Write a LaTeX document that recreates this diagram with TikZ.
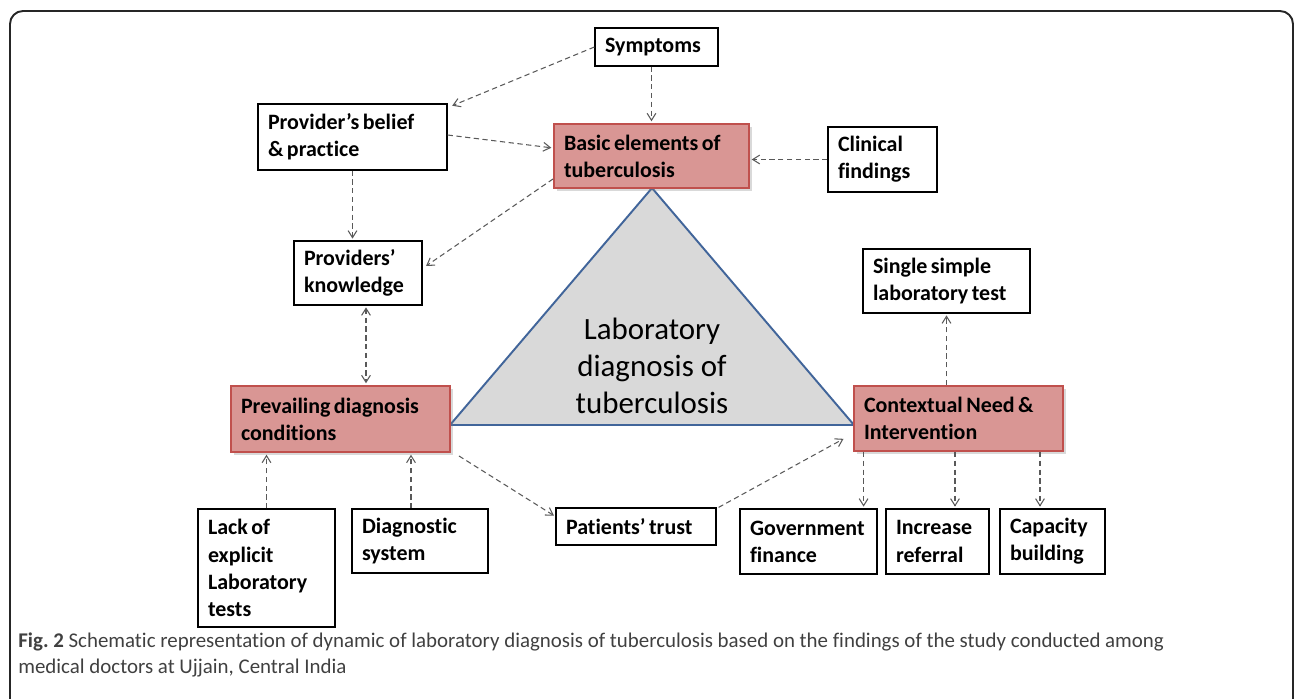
\documentclass[tikz,border=0pt]{standalone}
\usepackage{fontspec}
\setmainfont[Ligatures=NoCommon]{Carlito}
\newfontfamily\boxfont[Ligatures=NoCommon, WordSpace=0.7]{Carlito}
\usepackage{tikz}
\usetikzlibrary{arrows.meta, shadows, calc}
\definecolor{boxred}{HTML}{D99694}
\definecolor{edgered}{HTML}{C0504D}
\definecolor{trigray}{HTML}{D9D9D9}
\definecolor{triblue}{HTML}{41659A}
\definecolor{captxt}{HTML}{404040}
\tikzset {
    >={Straight Barb[length=4pt, width=5pt]},
    box/.style={draw, line width=0.7pt, align=flush left, inner xsep=0.2cm, inner ysep=0pt,
        fill=white, font=\boxfont\fontsize{12.5}{15.5}\selectfont\bfseries},
    keybox/.style={box, draw=edgered, line width=1.1pt, fill=boxred,
        drop shadow={shadow xshift=0.06cm, shadow yshift=-0.06cm, opacity=0.3}},
    link/.style={->, densely dashed, gray!70!black, line width=0.6pt, shorten >=1pt}
}

\begin{document}
\begin{tikzpicture}[x=0.02cm, y=-0.02cm]
\useasboundingbox (0,0) rectangle (1296,699);

% outer frame, open at the bottom
\draw[line width=1.1pt, black!85] (10,699) -- (10,24) arc[start angle=180, end angle=90, radius=0.26cm]
    -- (1280,11) arc[start angle=90, end angle=0, radius=0.26cm] -- (1293,699);

% central triangle
\coordinate (apex) at (652,188);
\coordinate (left) at (450,425);
\coordinate (right) at (854,425);
\filldraw[fill=trigray, draw=triblue, line width=1.1pt] (apex) -- (left) -- (right) -- cycle;
\node[align=center, font=\fontsize{17.6}{21}\selectfont] (lab) at (652,366)
    {Laboratory\\diagnosis of\\tuberculosis};

% boxes
\node[box, text width=2.06cm, minimum height=0.76cm] (sym) at (656.5,47) {Symptoms};
\node[box, text width=3.38cm, minimum height=1.32cm] (belief) at (352.5,137) {Provider’s belief\\\& practice};
\node[keybox, text width=3.50cm, minimum height=1.28cm] (basic) at (651.5,156) {Basic elements of\\tuberculosis};
\node[box, text width=1.78cm, minimum height=1.30cm] (clin) at (882.5,159.5) {Clinical\\findings};
\node[box, text width=2.16cm, minimum height=1.28cm] (know) at (358,273) {Providers’\\knowledge};
\node[box, text width=2.94cm, minimum height=1.28cm] (single) at (946.5,281) {Single simple\\laboratory test};
\node[keybox, text width=3.98cm, minimum height=1.32cm] (prev) at (340.5,419) {Prevailing diagnosis\\conditions};
\node[keybox, text width=3.78cm, minimum height=1.30cm] (ctx) at (958.5,418.5) {Contextual Need \&\\Intervention};
\node[box, text width=2.34cm, minimum height=2.36cm] (lack) at (266.5,568) {Lack of\\explicit\\Laboratory\\tests};
\node[box, text width=2.32cm, minimum height=1.28cm] (diag) at (420,541) {Diagnostic\\system};
\node[box, text width=2.80cm, minimum height=0.74cm] (trust) at (636,526.5) {Patients’ trust};
\node[box, text width=2.34cm, minimum height=1.30cm] (gov) at (808.5,541.5) {Government\\finance};
\node[box, text width=1.66cm, minimum height=1.30cm] (incr) at (937.5,541.5) {Increase\\referral};
\node[box, text width=1.70cm, minimum height=1.30cm] (cap) at (1052.5,541.5) {Capacity\\building};

% connectors
\coordinate (k1) at ([xshift=0.16cm]know.south);
\coordinate (d1) at ([xshift=-0.18cm]diag.north);
\coordinate (g1) at ([xshift=-0.28cm]gov.north east);
\coordinate (i1) at ([xshift=0.35cm]incr.north);
\coordinate (c1) at ([xshift=-0.25cm]cap.north);

\draw[link] (sym.west) -- ([xshift=0.06cm, yshift=-0.06cm]belief.north east);
\draw[link] (basic.north |- sym.south) -- (basic.north);
\draw[link] ([yshift=0.04cm]belief.east) -- ([yshift=0.16cm]basic.west);
\draw[link] (clin.west) -- (clin.west -| basic.east);
\draw[link] (belief.south) -- (belief.south |- know.north);
\draw[link] ([yshift=0.2cm]basic.south west) -- ([xshift=0.04cm, yshift=0.12cm]know.east);
\draw[link, <->, shorten <=1pt] (k1) -- (k1 |- prev.north);
\draw[link] (lack.north) -- (lack.north |- prev.south);
\draw[link] (d1) -- (d1 |- prev.south);
\draw[link] ([xshift=0.16cm, yshift=-0.06cm]prev.south east) -- ([yshift=0.2cm]trust.west);
\draw[link] ([xshift=0.04cm]trust.north east) -- ([xshift=-0.16cm, yshift=-0.39cm]ctx.west);
\draw[link] (single.south |- ctx.north) -- (single.south);
\draw[link] (g1 |- ctx.south) -- (g1);
\draw[link] (i1 |- ctx.south) -- (i1);
\draw[link] (c1 |- ctx.south) -- (c1);

% caption
\node[anchor=north west, align=flush left, text=captxt, inner sep=0pt,
    font=\fontsize{11.9}{15.3}\selectfont] (cap-text) at (18,632)
    {\textbf{Fig.\ 2} Schematic representation of dynamic of laboratory diagnosis of tuberculosis based on the findings of the study conducted among\\
     medical doctors at Ujjain, Central India};
\end{tikzpicture}
\end{document}
